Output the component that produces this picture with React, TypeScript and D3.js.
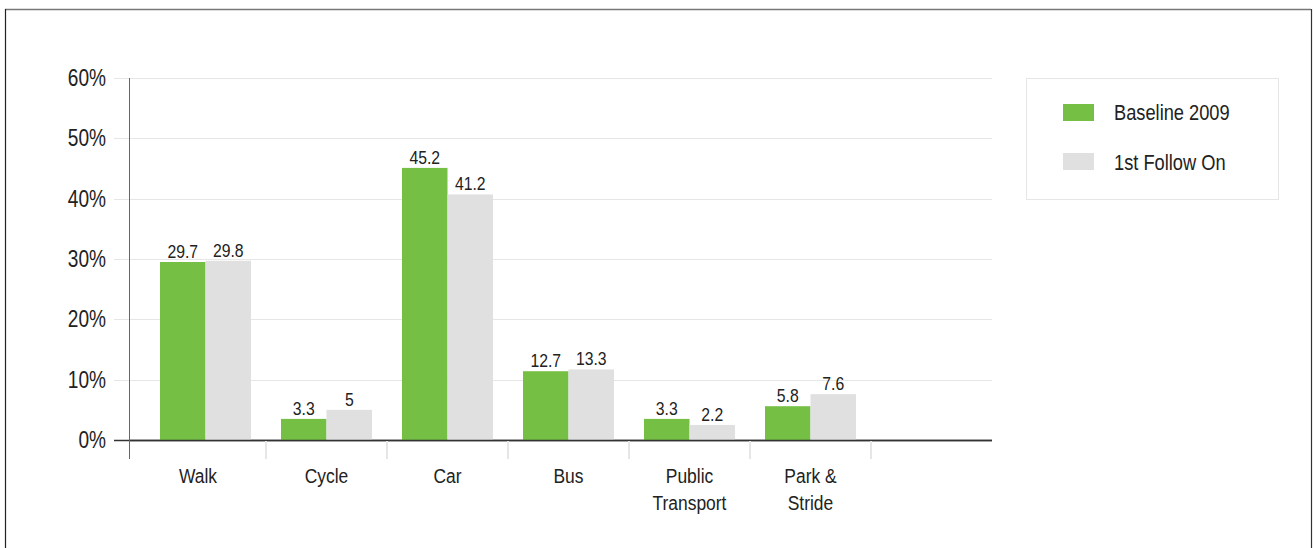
import React from "react";
import * as d3 from "d3";

const categories = ["Walk", "Cycle", "Car", "Bus", "Public Transport", "Park & Stride"];
const categoryLines = [["Walk"], ["Cycle"], ["Car"], ["Bus"], ["Public", "Transport"], ["Park &", "Stride"]];
const baselineValues = [29.5, 3.5, 45.1, 11.4, 3.5, 5.6];
const followOnValues = [29.7, 5.0, 40.7, 11.7, 2.5, 7.6];
const baselineLabels = ["29.7", "3.3", "45.2", "12.7", "3.3", "5.8"];
const followOnLabels = ["29.8", "5", "41.2", "13.3", "2.2", "7.6"];
const yTicks = [0, 10, 20, 30, 40, 50, 60];
const seriesNames = ["Baseline 2009", "1st Follow On"];
const seriesColors = ["#74bf44", "#e0e0e0"];

const FONT = "'Liberation Sans', Arial, sans-serif";
const SX = 0.83;
const TEXT = "#222";

function Txt({ x, y, size, anchor = "start", lines, lineH = 27, dy }: {
  x: number; y: number; size: number; anchor?: string; lines: string[]; lineH?: number; dy?: string;
}) {
  return (
    <g transform={`translate(${x},${y}) scale(${SX},1)`}>
      <text x={0} y={0} dy={dy} textAnchor={anchor as any} fontSize={size} fill={TEXT} fontFamily={FONT}>
        {lines.map((l, k) => (
          <tspan key={k} x={0} y={k * lineH}>{l}</tspan>
        ))}
      </text>
    </g>
  );
}

export default function App() {
  const W = 1314, H = 548;
  const axisX = 130;
  const plotLeft = 145, plotRight = 992;
  const y = d3.scaleLinear().domain([0, 60]).range([440, 78]);
  const x = d3.scaleBand<string>().domain([...categories, "__empty"]).range([plotLeft, plotRight]).paddingInner(0).paddingOuter(0);
  const bw = x.bandwidth();
  const sub = d3.scaleBand<number>().domain([0, 1]).range([0, bw]).paddingInner(0).paddingOuter(15 / 45.5);
  const series = [
    { values: baselineValues, labels: baselineLabels },
    { values: followOnValues, labels: followOnLabels },
  ];

  return (
    <svg width={W} height={H} style={{ position: "absolute", left: 0, top: 0 }}>
      <rect x={0} y={0} width={W} height={H} fill="#fff" />
      {/* frame */}
      <line x1={5} x2={1311} y1={9.5} y2={9.5} stroke="#777" strokeWidth={1.3} />
      <line x1={5.5} x2={5.5} y1={9} y2={H} stroke="#222" strokeWidth={1.2} />
      <line x1={1311.5} x2={1311.5} y1={9} y2={H} stroke="#333" strokeWidth={1.2} />

      {/* gridlines */}
      {yTicks.map((t) => (
        <g key={t}>
          <line x1={114} x2={plotRight} y1={Math.round(y(t)) + 0.5} y2={Math.round(y(t)) + 0.5}
            stroke={t === 0 ? "#333" : "#e6e6e6"} strokeWidth={t === 0 ? 1.5 : 1} />
          <Txt x={106} y={y(t)} dy="0.35em" anchor="end" size={23} lines={[`${t}%`]} />
        </g>
      ))}

      {/* bars */}
      {categories.map((c, i) => (
        <g key={c}>
          {series.map((s, j) => {
            const bx = (x(c) as number) + (sub(j) as number);
            const top = y(s.values[i]);
            return (
              <g key={j}>
                <rect x={bx} y={top} width={sub.bandwidth()} height={y(0) - top} fill={seriesColors[j]} />
                <Txt x={bx + sub.bandwidth() / 2} y={top - 4} anchor="middle" size={19} lines={[s.labels[i]]} />
              </g>
            );
          })}
        </g>
      ))}

      {/* x axis */}
      <line x1={axisX} x2={plotRight} y1={440.5} y2={440.5} stroke="#333" strokeWidth={1.5} />
      <line x1={axisX - 0.5} x2={axisX - 0.5} y1={78} y2={459} stroke="#666" strokeWidth={1} />
      {categories.map((c, i) => {
        const end = (x(c) as number) + bw;
        const start = i === 0 ? axisX : (x(c) as number);
        const cx = (start + end) / 2;
        return (
          <g key={c}>
            <line x1={end} x2={end} y1={441} y2={459} stroke="#e6e6e6" strokeWidth={2} />
            <Txt x={cx} y={483} anchor="middle" size={21} lines={categoryLines[i]} lineH={27} />
          </g>
        );
      })}

      {/* legend */}
      <rect x={1026.5} y={78.5} width={252} height={121} fill="#fff" stroke="#e6e6e6" strokeWidth={1} />
      {seriesNames.map((n, j) => (
        <g key={n}>
          <rect x={1063} y={104 + j * 49} width={31} height={17} fill={seriesColors[j]} />
          <Txt x={1114} y={120 + j * 50} size={22} lines={[n]} />
        </g>
      ))}
    </svg>
  );
}
